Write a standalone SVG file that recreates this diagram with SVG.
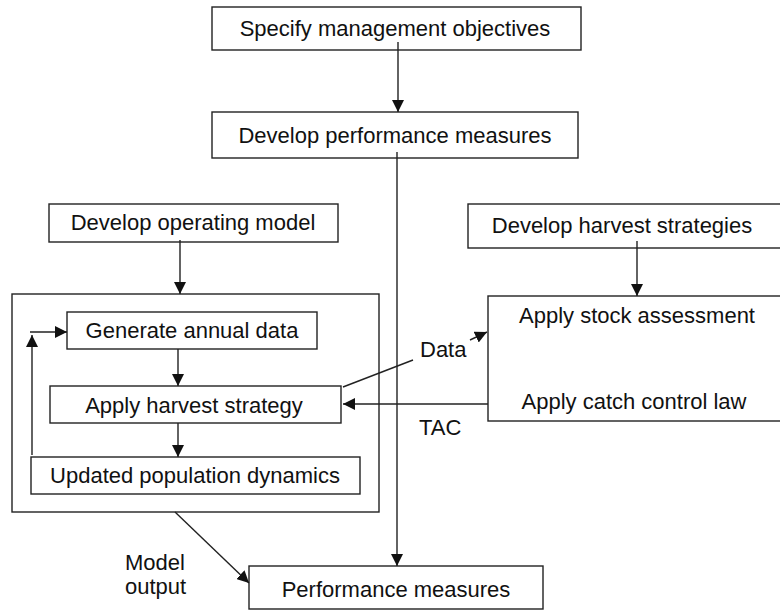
<svg xmlns="http://www.w3.org/2000/svg" width="780" height="610" viewBox="0 0 780 610">
<defs>
<marker id="ah" markerUnits="userSpaceOnUse" markerWidth="12" markerHeight="12" viewBox="0 0 12 12" refX="12" refY="6" orient="auto">
<path d="M0,0 L12,6 L0,12 z" fill="#111"/>
</marker>
</defs>
<style>
rect{fill:#fff;stroke:#222;stroke-width:1.4}
text{font-family:"Liberation Sans",Arial,sans-serif;font-size:22px;fill:#111;text-anchor:middle}
.c line{stroke:#222;stroke-width:1.4}
.l{text-anchor:start}
</style>
<rect x="-10" y="-10" width="800" height="630" style="stroke:none"/>
<g id="outer"><rect x="12" y="294" width="367" height="218"/></g>
<g id="right"><rect x="488" y="296" width="300" height="125"/>
<text x="637" y="323">Apply stock assessment</text>
<text x="634" y="409">Apply catch control law</text></g>
<g id="spec"><rect x="212" y="7" width="369" height="43"/><text x="395" y="36">Specify management objectives</text></g>
<g id="devperf"><rect x="212" y="112" width="366" height="46"/><text x="395" y="143">Develop performance measures</text></g>
<g id="devop"><rect x="49" y="204" width="289" height="38"/><text x="193" y="230">Develop operating model</text></g>
<g id="devharv"><rect x="468" y="204" width="320" height="44"/><text x="622" y="233">Develop harvest strategies</text></g>
<g id="gen"><rect x="67" y="312" width="250" height="37"/><text x="192" y="338">Generate annual data</text></g>
<g id="apply"><rect x="50" y="386" width="291" height="37"/><text x="194" y="413">Apply harvest strategy</text></g>
<g id="updated"><rect x="31" y="457" width="329" height="37"/><text x="195" y="483">Updated population dynamics</text></g>
<g id="perf"><rect x="249" y="566" width="294" height="43"/><text x="396" y="597">Performance measures</text></g>
<g class="c" id="connectors">
<line x1="398" y1="42" x2="398" y2="112" marker-end="url(#ah)"/>
<line x1="397" y1="152" x2="397" y2="566" marker-end="url(#ah)"/>
<line x1="180" y1="240" x2="180" y2="294" marker-end="url(#ah)"/>
<line x1="637" y1="241" x2="637" y2="296" marker-end="url(#ah)"/>
<line x1="178" y1="349" x2="178" y2="386" marker-end="url(#ah)"/>
<line x1="178" y1="423" x2="178" y2="457" marker-end="url(#ah)"/>
<line x1="32" y1="455" x2="32" y2="335" marker-end="url(#ah)"/>
<line x1="30" y1="332" x2="67" y2="332" marker-end="url(#ah)"/>
<line x1="343" y1="387" x2="413" y2="360"/>
<line x1="470" y1="340" x2="487" y2="332" marker-end="url(#ah)"/>
<line x1="488" y1="404" x2="343" y2="404" marker-end="url(#ah)"/>
<line x1="175" y1="512" x2="249" y2="583" marker-end="url(#ah)"/>
<text class="l" x="420" y="357">Data</text>
<text class="l" x="419" y="435">TAC</text>
<text class="l" x="125" y="570">Model</text>
<text class="l" x="125" y="594">output</text>
</g>
</svg>
